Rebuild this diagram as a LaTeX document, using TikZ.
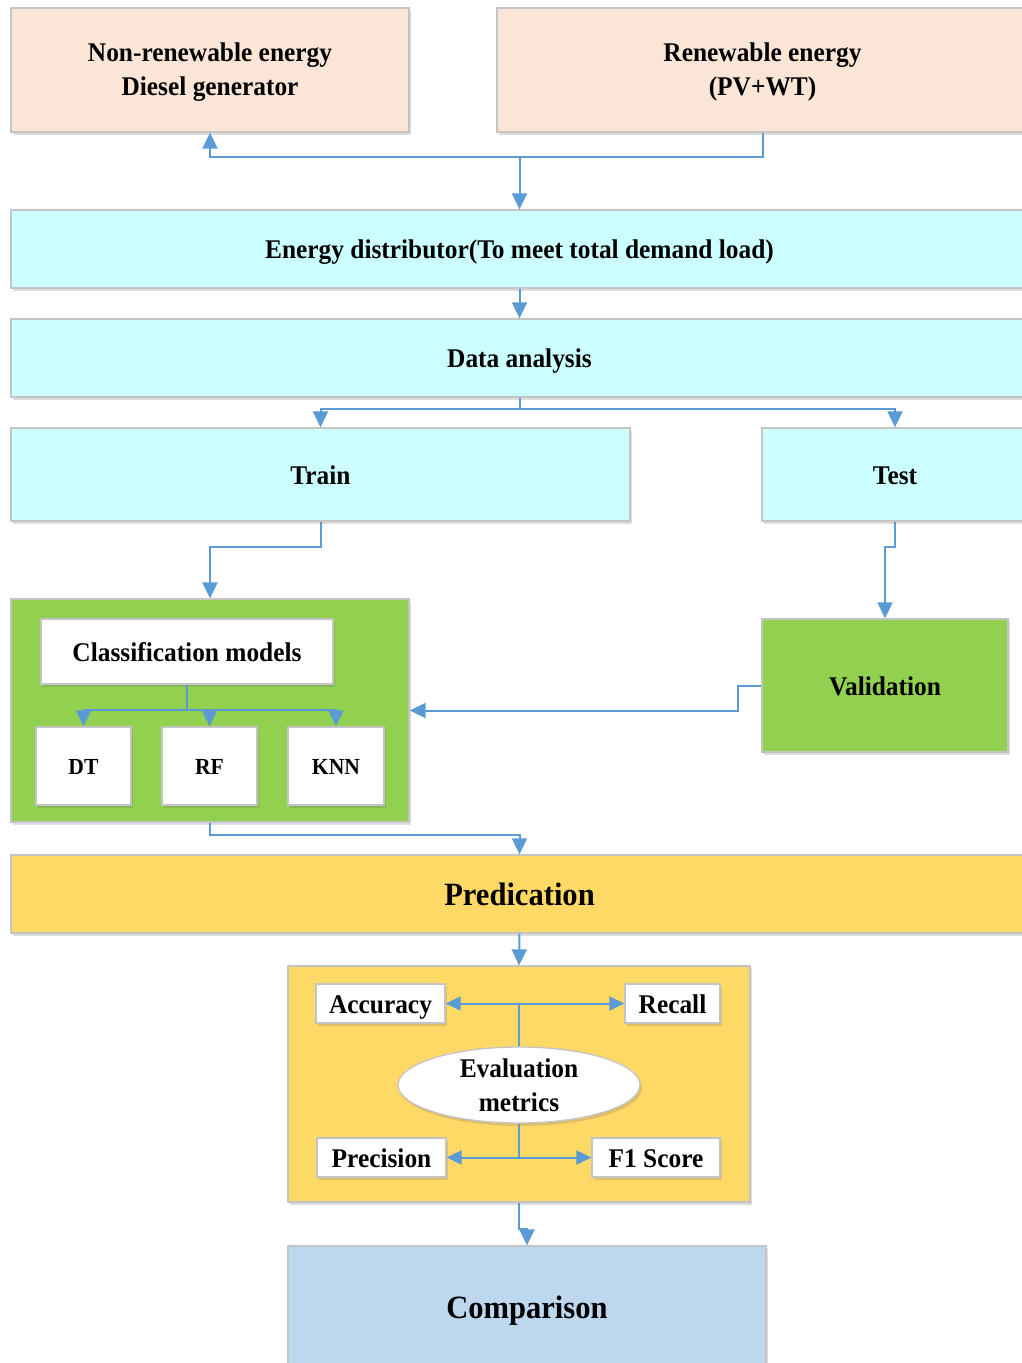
\documentclass[tikz,border=0pt]{standalone}
\usepackage{fontspec}
\setmainfont{Liberation Serif}[FakeStretch=0.94]
\usetikzlibrary{arrows.meta,shadows,shapes.geometric}
\definecolor{peach}{HTML}{FBE5D6}
\definecolor{aqua}{HTML}{CCFFFF}
\definecolor{leaf}{HTML}{92D050}
\definecolor{gold}{HTML}{FFD966}
\definecolor{sky}{HTML}{BDD7EE}
\definecolor{wire}{HTML}{5B9BD5}
\definecolor{rim}{HTML}{C4C4C4}
\begin{document}
\begin{tikzpicture}[x=1pt,y=-1pt,
  box/.style={draw=rim, line width=1.3pt, inner sep=0pt, align=center,
    font=\fontsize{27}{34}\selectfont\bfseries,
    drop shadow={shadow xshift=2pt, shadow yshift=-3pt, opacity=0.22, fill=black!60}},
  line/.style={text height=20pt, text depth=1pt},
  bigline/.style={text height=24pt, text depth=2pt, font=\fontsize{32.5}{38}\selectfont\bfseries},
  small/.style={text height=17pt, text depth=1pt, font=\fontsize{23}{27}\selectfont\bfseries},
  conn/.style={draw=wire, line width=2pt},
  tip/.style={-{Triangle[length=16pt,width=15pt]}},
  both/.style={{Triangle[length=15pt,width=14pt]}-{Triangle[length=15pt,width=14pt]}}]
\useasboundingbox (0,0) rectangle (1022,1363);
\clip (0,0) rectangle (1022,1363);

% sources
\node[box, fill=peach, minimum width=398, minimum height=124] (nonren) at (210,70)
  {\rule{0pt}{22pt}Non-renewable energy\\Diesel generator};
\node[box, fill=peach, minimum width=531, minimum height=124] (renew) at (762.5,70)
  {\rule{0pt}{22pt}Renewable energy\\(PV+WT)};

% distribution and analysis bars
\node[box, line, fill=aqua, minimum width=1017, minimum height=78] (dist) at (519.5,249)
  {Energy distributor(To meet total demand load)};
\node[box, line, fill=aqua, minimum width=1017, minimum height=78] (data) at (519.5,358)
  {Data analysis};

% split
\node[box, line, fill=aqua, minimum width=619, minimum height=93] (train) at (320.5,474.5) {Train};
\node[box, line, fill=aqua, minimum width=266, minimum height=93] (test) at (895,474.5) {Test};

% models
\node[box, fill=leaf, minimum width=398, minimum height=223] (models) at (210,710.5) {};
\node[box, line, fill=white, minimum width=292, minimum height=65] (cls) at (187,651.5)
  {Classification models};
\node[box, small, fill=white, minimum width=95, minimum height=78] (dt) at (83.5,766) {DT};
\node[box, small, fill=white, minimum width=95, minimum height=78] (rf) at (209.5,766) {RF};
\node[box, small, fill=white, minimum width=96, minimum height=78] (knn) at (336,766) {KNN};

\node[box, line, fill=leaf, minimum width=246, minimum height=133] (valid) at (885,685.5) {Validation};

% prediction
\node[box, bigline, fill=gold, minimum width=1017, minimum height=78] (pred) at (519.5,894) {Predication};

% evaluation metrics
\node[box, fill=gold, minimum width=462, minimum height=236] (metrics) at (519,1084) {};
\node[box, line, fill=white, minimum width=129, minimum height=39] (acc) at (380.5,1003.5) {Accuracy};
\node[box, line, fill=white, minimum width=95, minimum height=39] (rec) at (672.5,1003.5) {Recall};
\node[box, line, fill=white, minimum width=129, minimum height=39] (prec) at (381.5,1157.5) {Precision};
\node[box, line, fill=white, minimum width=128, minimum height=39] (f1) at (656,1157.5) {F1 Score};
\node[box, ellipse, fill=white, minimum width=242, minimum height=76]
  (eval) at (519,1085) {Evaluation\\metrics};

% comparison
\node[box, bigline, fill=sky, minimum width=478, minimum height=122] (comp) at (527,1307) {Comparison};

% connectors
\coordinate (jsrc) at (dist.north |- 0,157);
\draw[conn,tip] (renew.south) |- (jsrc) -| (nonren.south);
\draw[conn,tip] (jsrc) -- (dist.north);
\draw[conn,tip] (dist.south) -- (data.north);

\draw[conn] (data.south) -- ++(0,11) coordinate (jdata);
\draw[conn,tip] (jdata) -| (train.north);
\draw[conn,tip] (jdata) -| (test.north);

\draw[conn,tip] (train.south) -- ++(0,25) -| (models.north);
\draw[conn,tip] (test.south) -- ++(0,25) -| (valid.north);

\draw[conn] (cls.south) -- ++(0,25) coordinate (jcls);
\draw[conn,tip] (jcls) -| (dt.north);
\draw[conn,tip] (jcls) -- (rf.north |- jcls) -- (rf.north);
\draw[conn,tip] (jcls) -| (knn.north);

\draw[conn,tip] (valid.west) -- ++(-23,0) |- (models.east);
\draw[conn,tip] (models.south) -- ++(0,12) -| (pred.north);
\draw[conn,tip] (pred.south) -- (metrics.north);

\draw[conn,both] (acc.east) -- (rec.west);
\draw[conn] (eval.north) -- (eval.north |- acc.east);
\draw[conn,both] (prec.east) -- (f1.west);
\draw[conn] (eval.south) -- (eval.south |- prec.east);

\draw[conn,tip] (metrics.south) -- ++(0,26) -| (comp.north);
\end{tikzpicture}
\end{document}
